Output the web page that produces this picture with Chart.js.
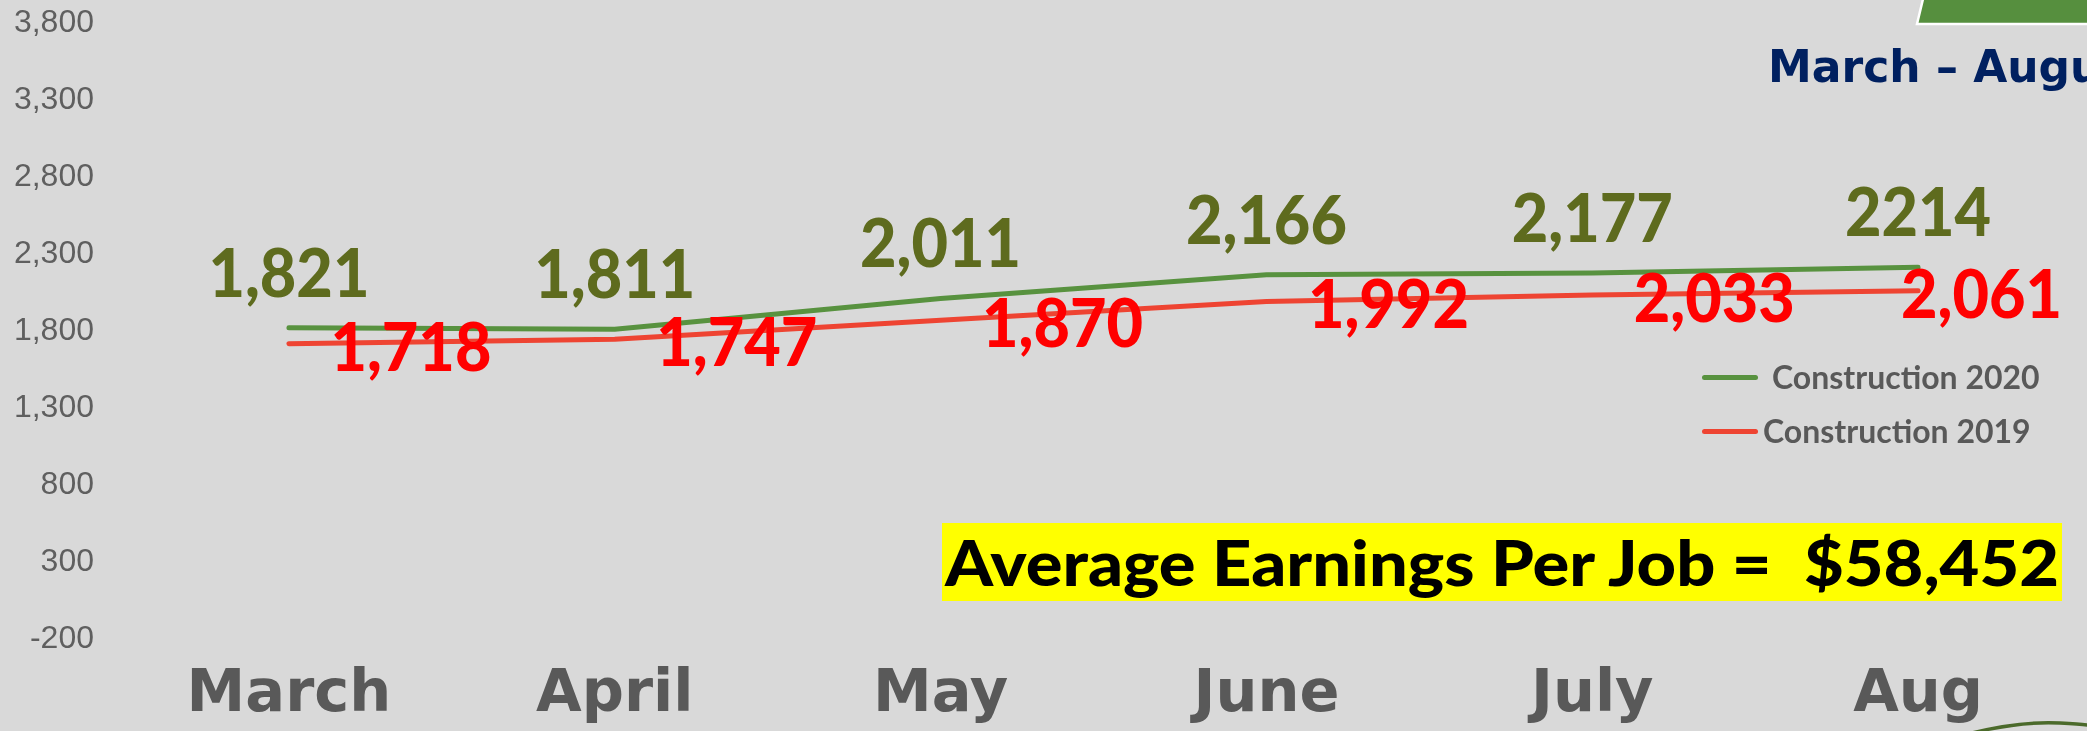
<!DOCTYPE html>
<html>
<head>
<meta charset="utf-8">
<script src="https://cdn.jsdelivr.net/npm/chart.js@4.4.1/dist/chart.umd.min.js"></script>
<style>
  html, body { margin: 0; padding: 0; }
  body {
    width: 2087px; height: 731px; overflow: hidden;
    background: #d9d9d9; position: relative;
  }
  #chart { position: absolute; left: 0; top: 0; }
  .title {
    position: absolute; left: 1768px; top: 45px;
    font: bold 44px "DejaVu Sans", sans-serif; line-height: 44px;
    color: #002060; white-space: nowrap;
  }
  .legend { position: absolute; left: 1702px; top: 0; }
  .legend-item {
    position: absolute; left: 0; display: flex; align-items: center;
    height: 32px; white-space: nowrap;
    font: bold 32px Lato, sans-serif; line-height: 32px; color: #595959;
  }
  .legend-item .swatch { width: 56px; height: 5px; border-radius: 3px; }
  .banner {
    position: absolute; left: 942px; top: 523px; width: 1120px; height: 78px;
    background: #ffff00;
  }
  .banner span {
    position: absolute; left: 3px; top: 7px;
    font: 900 63px Lato, sans-serif; line-height: 63px; color: #000;
    white-space: pre; transform-origin: left center;
  }
  svg.deco { position: absolute; left: 0; top: 0; }
</style>
</head>
<body>
<canvas id="chart" width="2087" height="731"></canvas>
<svg class="deco" width="2087" height="731">
  <polygon points="1923,0 2087,0 2087,24 1917,24" fill="#568f3e"/>
  <polyline points="1923,-1 1917,24 2088,24" fill="none" stroke="#ffffff" stroke-width="2.5"/>
  <path d="M1972,733 Q2020,721 2060,723 T2090,727" fill="none" stroke="#4b6a2b" stroke-width="3.5"/>
</svg>
<div class="title">March – August</div>
<div class="legend" id="legend"></div>
<div class="banner"><span id="bannerText">Average Earnings Per Job =  $58,452</span></div>

<script>
// --- Data ---
const months = ["March", "April", "May", "June", "July", "Aug"];
const construction2020 = [1821, 1811, 2011, 2166, 2177, 2214];
const construction2019 = [1718, 1747, 1870, 1992, 2033, 2061];
const seriesNames = ["Construction 2020", "Construction 2019"];
const yMin = -200;
const yMax = 3800;
const yStep = 500;
const plain2020 = [5]; // the slide shows the August 2020 value without a comma

const greenLine = "#58923f";
const redLine = "#ee4432";

// label look for each dataset (by index)
const labelStyles = [
  { color: "#5e6b1e", dx: 0, dy: -55, size: 67, squeeze: 0.94, plain: plain2020 },
  { color: "#ff0000", dx: 122, dy: 3, size: 67, squeeze: 0.94, plain: [] },
];

// --- Value labels drawn next to each point ---
const valueLabels = {
  id: "valueLabels",
  afterDatasetsDraw(chart) {
    const ctx = chart.ctx;
    chart.data.datasets.forEach((ds, i) => {
      const st = labelStyles[i];
      chart.getDatasetMeta(i).data.forEach((pt, j) => {
        const v = ds.data[j];
        const txt = st.plain.includes(j) ? String(v) : v.toLocaleString("en-US");
        ctx.save();
        ctx.font = `900 ${st.size}px Lato, sans-serif`;
        const w = ctx.measureText(txt).width * st.squeeze;
        let cx = pt.x + st.dx;
        cx = Math.min(cx, chart.width - 25 - w / 2); // keep inside the slide
        const baseY = pt.y + st.dy + st.size * 0.358;
        ctx.translate(cx, baseY);
        ctx.scale(st.squeeze, 1);
        ctx.textAlign = "center";
        ctx.textBaseline = "alphabetic";
        ctx.fillStyle = st.color;
        ctx.fillText(txt, 0, 0);
        ctx.restore();
      });
    });
  },
};

const chart = new Chart(document.getElementById("chart"), {
  type: "line",
  data: {
    labels: months,
    datasets: [
      {
        label: seriesNames[0],
        data: construction2020,
        borderColor: greenLine,
        borderWidth: 5,
        borderCapStyle: "round",
        pointRadius: 0,
        tension: 0,
      },
      {
        label: seriesNames[1],
        data: construction2019,
        borderColor: redLine,
        borderWidth: 5,
        borderCapStyle: "round",
        pointRadius: 0,
        tension: 0,
      },
    ],
  },
  options: {
    responsive: false,
    animation: false,
    layout: { padding: { top: 23, right: 6, left: 0, bottom: 0 } },
    plugins: { legend: { display: false }, tooltip: { enabled: false } },
    scales: {
      x: {
        offset: true,
        grid: { display: false, drawTicks: false },
        border: { display: false },
        ticks: {
          color: "#595959",
          padding: 21,
          font: { family: "'DejaVu Sans'", size: 59, weight: "bold" },
        },
        afterFit(scale) { scale.height = 92; },
      },
      y: {
        min: yMin,
        max: yMax,
        grid: { display: false, drawTicks: false },
        border: { display: false },
        ticks: {
          stepSize: yStep,
          color: "#5f5f5f",
          padding: 32,
          font: { family: "'Liberation Sans'", size: 32 },
          callback: (v) => v.toLocaleString("en-US"),
        },
        afterFit(scale) {
          scale.width = 126;
          // the tick padding should not push the plot area down
          scale.paddingTop = 0;
          scale.paddingBottom = 0;
        },
      },
    },
  },
  plugins: [valueLabels],
});

// --- Legend built from the datasets ---
const legendEl = document.getElementById("legend");
const legendTops = [361, 415];
const legendGaps = [14, 5];
chart.data.datasets.forEach((ds, i) => {
  const item = document.createElement("div");
  item.className = "legend-item";
  item.style.top = legendTops[i] + "px";
  item.innerHTML = `<span class="swatch" style="background:${ds.borderColor};margin-right:${legendGaps[i]}px"></span>${ds.label}`;
  legendEl.appendChild(item);
});

// squeeze the banner text to the width it has on the slide
const banner = document.getElementById("bannerText");
const natural = banner.getBoundingClientRect().width;
banner.style.transform = `scaleX(${1114 / natural})`;
</script>
</body>
</html>
